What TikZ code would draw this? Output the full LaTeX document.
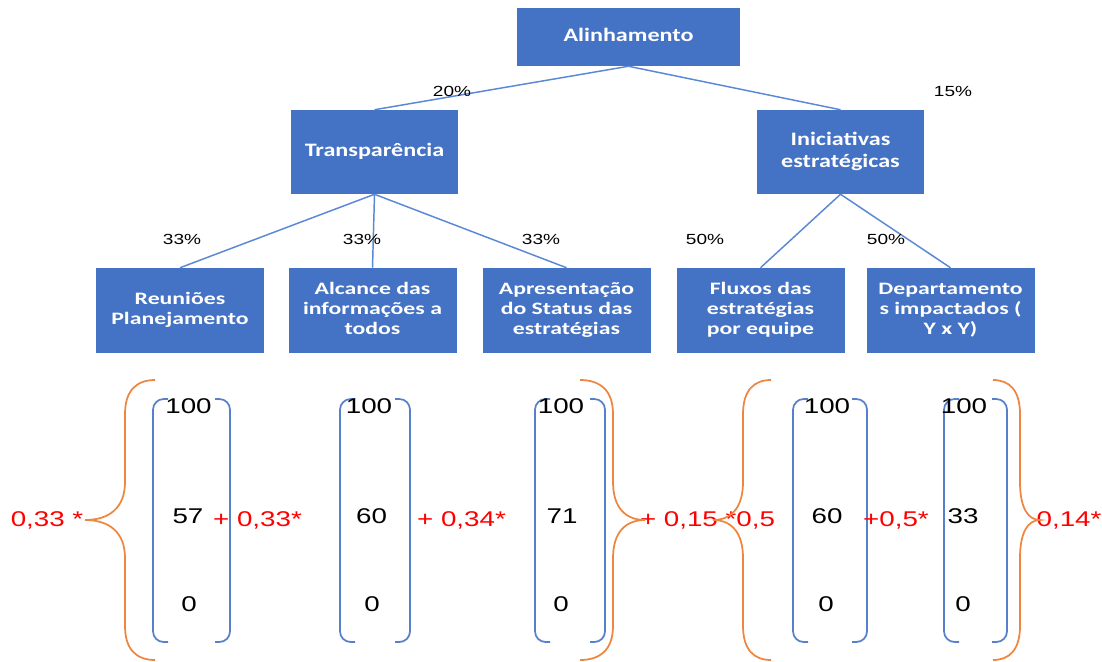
\documentclass[tikz,border=0pt]{standalone}
\usepackage{fontspec}
\usepackage{graphicx}
\setmainfont{Liberation Sans}
\newfontfamily\boxfnt{Carlito}
\definecolor{officeblue}{HTML}{4472C4}
\definecolor{linkblue}{HTML}{5A88D6}
\definecolor{braceorange}{HTML}{EE8640}
\definecolor{weightred}{HTML}{FF0000}
% horizontally widened text (one line / several centred lines)
\newcommand{\sx}[2]{\scalebox{#1}[1]{#2}}
\newcommand{\wtxt}[2]{\scalebox{#1}[1]{\begin{tabular}{@{}c@{}}#2\end{tabular}}}
% rounded square brackets around a column of values
\newcommand{\colbracket}[2]{%
  \draw[colbr] (#1+15,399) -- (#1,399) -- (#1,642) -- (#1+15,642);
  \draw[colbr] (#2-15,399) -- (#2,399) -- (#2,642) -- (#2-15,642);}
% curly brace: end x, stem x, tip x
\newcommand{\curly}[3]{%
  \draw[brc] (#1,380) .. controls ({0.4*#1+0.6*#2},380) and (#2,390) .. (#2,414)
    -- (#2,482)
    .. controls (#2,508) and ({0.6*#2+0.4*#3},520) .. (#3,520)
    .. controls ({0.6*#2+0.4*#3},520) and (#2,532) .. (#2,558)
    -- (#2,626)
    .. controls (#2,650) and ({0.4*#1+0.6*#2},660) .. (#1,660);}
\tikzset{
  boxbase/.style={fill=officeblue, text=white, inner sep=0pt,
    font=\boxfnt\bfseries\fontsize{14.25}{17}\selectfont},
  rootbox/.style={boxbase, minimum width=167.25pt, minimum height=43.5pt},
  midbox/.style={boxbase, minimum width=125.25pt, minimum height=63pt},
  leafbox/.style={boxbase, minimum width=126pt, minimum height=63.75pt,
    font=\boxfnt\bfseries\fontsize{13.1}{15}\selectfont},
  link/.style={draw=linkblue, line width=1.1pt},
  pct/.style={anchor=base, inner sep=0pt, font=\fontsize{11}{13}\selectfont},
  val/.style={anchor=base, inner sep=0pt, font=\fontsize{16}{19}\selectfont},
  wgt/.style={val, text=weightred},
  colbr/.style={draw=officeblue!90!white, line width=1.3pt, rounded corners=8pt},
  brc/.style={draw=braceorange, line width=1.3pt},
}
\begin{document}
\begin{tikzpicture}[x=0.75pt, y=-0.75pt]
\fill[white] (0,0) rectangle (1102,661);
\path[use as bounding box] (0,0) rectangle (1102,661);

% hierarchy boxes
\node[rootbox] (align) at (628.5,37) {\wtxt{1.27}{Alinhamento}};
\node[midbox] (transp) at (374.5,152) {\wtxt{1.27}{Transparência}};
\node[midbox] (inic) at (840.5,152) {\wtxt{1.27}{Iniciativas\\estratégicas}};
\node[leafbox] (reun) at (180,310.5) {\wtxt{1.36}{Reuniões\\Planejamento}};
\node[leafbox] (alc) at (372.5,310.5) {\wtxt{1.36}{Alcance das\\informações a\\todos}};
\node[leafbox] (apres) at (566.5,310.5) {\wtxt{1.36}{Apresentação\\do Status das\\estratégias}};
\node[leafbox] (flux) at (760.5,310.5) {\wtxt{1.36}{Fluxos das\\estratégias\\por equipe}};
\node[leafbox] (dept) at (950.5,310.5) {\wtxt{1.36}{Departamento\\s impactados (\\Y x Y)}};

% connectors
\draw[link] (align.south) -- (transp.north);
\draw[link] (align.south) -- (inic.north);
\draw[link] (transp.south) -- (reun.north);
\draw[link] (transp.south) -- (alc.north);
\draw[link] (transp.south) -- (apres.north);
\draw[link] (inic.south) -- (flux.north);
\draw[link] (inic.south) -- (dept.north);

% weights
\node[pct] (w20) at (452,96) {\sx{1.3}{20\%}};
\node[pct] (w15) at (953,96) {\sx{1.3}{15\%}};
\node[pct] (w33a) at (182,244) {\sx{1.3}{33\%}};
\node[pct] (w33b) at (362,244) {\sx{1.3}{33\%}};
\node[pct] (w33c) at (541,244) {\sx{1.3}{33\%}};
\node[pct] (w50a) at (705,244) {\sx{1.3}{50\%}};
\node[pct] (w50b) at (886,244) {\sx{1.3}{50\%}};

% value columns
\colbracket{153}{230}
\colbracket{340}{410}
\colbracket{535}{605}
\colbracket{793}{867}
\colbracket{944}{1007}

\node[val] (c1t) at (188.5,413) {\sx{1.3}{100}};
\node[val] (c1m) at (188,523.5) {\sx{1.3}{57}};
\node[val] (c1b) at (189,611) {\sx{1.3}{0}};
\node[val] (c2t) at (369,413) {\sx{1.3}{100}};
\node[val] (c2m) at (371.5,523.5) {\sx{1.3}{60}};
\node[val] (c2b) at (372,611) {\sx{1.3}{0}};
\node[val] (c3t) at (561,413) {\sx{1.3}{100}};
\node[val] (c3m) at (562,523.5) {\sx{1.3}{71}};
\node[val] (c3b) at (561,611) {\sx{1.3}{0}};
\node[val] (c4t) at (827,413) {\sx{1.3}{100}};
\node[val] (c4m) at (827,523.5) {\sx{1.3}{60}};
\node[val] (c4b) at (826,611) {\sx{1.3}{0}};
\node[val] (c5t) at (964,413) {\sx{1.3}{100}};
\node[val] (c5m) at (963,523.5) {\sx{1.3}{33}};
\node[val] (c5b) at (963,611) {\sx{1.3}{0}};

% weighted sum terms
\node[wgt] (f1) at (47,526) {\sx{1.3}{0,33 *}};
\node[wgt] (f2) at (257.5,526) {\sx{1.3}{+ 0,33*}};
\node[wgt] (f3) at (461.5,526) {\sx{1.3}{+ 0,34*}};
\node[wgt] (f4) at (707.5,526) {\sx{1.3}{+ 0,15 *0,5}};
\node[wgt] (f5) at (896,526) {\sx{1.3}{+0,5*}};
\node[wgt] (f6) at (1069,526) {\sx{1.3}{0,14*}};

% group braces
\curly{155}{125}{85}
\curly{580}{613}{645}
\curly{771}{743}{713}
\curly{993}{1020}{1040}
\end{tikzpicture}
\end{document}
